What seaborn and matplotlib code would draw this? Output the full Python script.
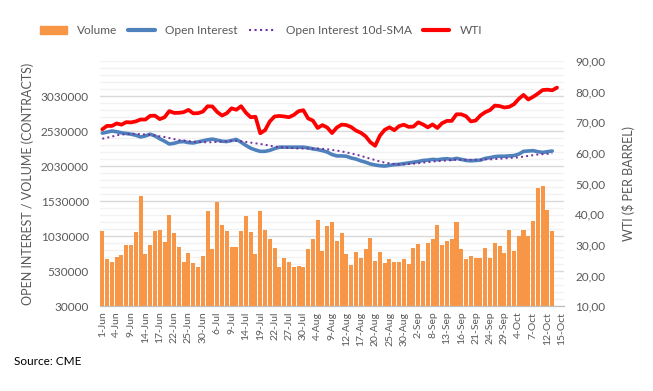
import numpy as np
import pandas as pd
import seaborn as sns
import matplotlib.pyplot as plt
from matplotlib.lines import Line2D
from matplotlib.patches import Patch
from matplotlib.ticker import FuncFormatter

# trading days 1-Jun .. 15-Oct (US holidays removed)
dates = pd.bdate_range('2021-06-01', '2021-10-15', freq='C',
                       holidays=['2021-07-05', '2021-09-06'])
date_labels = [f"{d.day}-{d.strftime('%b')}" for d in dates]

volume = [1096000, 701000, 659000, 730000, 758000, 903000, 903000, 1082000, 1607000, 776000,
          903000, 1096000, 1124000, 941000, 1335000, 1068000, 870000, 659000, 791000, 645000,
          584000, 744000, 1392000, 842000, 1518000, 1194000, 1096000, 870000, 870000, 1096000,
          1321000, 1082000, 776000, 1392000, 1124000, 983000, 856000, 589000, 715000, 659000,
          589000, 603000, 589000, 842000, 983000, 1265000, 814000, 1180000, 1237000, 955000,
          1068000, 772000, 617000, 800000, 715000, 842000, 997000, 673000, 800000, 645000,
          701000, 659000, 659000, 701000, 631000, 856000, 913000, 673000, 927000, 983000,
          1194000, 899000, 955000, 983000, 1237000, 842000, 701000, 744000, 715000, 715000,
          856000, 715000, 927000, 885000, 786000, 1124000, 814000, 1025000, 1124000, 1025000,
          1251000, 1716000, 1744000, 1406000, 1096000]

open_interest = [2500000, 2515000, 2530000, 2520000, 2505000, 2495000, 2485000, 2470000, 2445000, 2460000,
                 2485000, 2460000, 2420000, 2385000, 2345000, 2355000, 2375000, 2380000, 2365000, 2360000,
                 2375000, 2390000, 2405000, 2415000, 2400000, 2385000, 2380000, 2395000, 2410000, 2370000,
                 2325000, 2285000, 2260000, 2240000, 2240000, 2255000, 2280000, 2300000, 2300000, 2300000,
                 2300000, 2300000, 2300000, 2290000, 2275000, 2265000, 2250000, 2230000, 2195000, 2175000,
                 2175000, 2170000, 2145000, 2130000, 2105000, 2085000, 2060000, 2045000, 2035000, 2030000,
                 2040000, 2050000, 2055000, 2065000, 2075000, 2085000, 2095000, 2110000, 2115000, 2125000,
                 2120000, 2130000, 2135000, 2125000, 2140000, 2125000, 2110000, 2105000, 2110000, 2115000,
                 2140000, 2150000, 2165000, 2170000, 2170000, 2175000, 2180000, 2200000, 2240000, 2245000,
                 2250000, 2235000, 2225000, 2235000, 2245000]

oi_sma = [2420000, 2435000, 2450000, 2470000, 2480000, 2485000, 2490000, 2490000, 2485000, 2480000,
          2475000, 2465000, 2455000, 2445000, 2430000, 2415000, 2400000, 2395000, 2385000, 2380000,
          2375000, 2370000, 2370000, 2370000, 2375000, 2380000, 2385000, 2390000, 2390000, 2385000,
          2375000, 2365000, 2355000, 2345000, 2335000, 2320000, 2310000, 2300000, 2295000, 2290000,
          2285000, 2280000, 2280000, 2280000, 2280000, 2280000, 2275000, 2270000, 2260000, 2250000,
          2240000, 2225000, 2210000, 2195000, 2175000, 2155000, 2135000, 2115000, 2095000, 2080000,
          2070000, 2060000, 2055000, 2055000, 2060000, 2065000, 2070000, 2080000, 2085000, 2095000,
          2100000, 2105000, 2110000, 2115000, 2120000, 2120000, 2120000, 2120000, 2120000, 2120000,
          2125000, 2125000, 2130000, 2135000, 2140000, 2145000, 2150000, 2155000, 2165000, 2175000,
          2185000, 2195000, 2200000, 2205000, 2210000]

wti = [67.72, 68.83, 68.81, 69.62, 69.23, 70.05, 69.96, 70.29, 70.91, 70.88,
       72.12, 72.15, 71.04, 71.64, 73.66, 73.06, 73.08, 73.30, 74.05, 72.91,
       72.98, 73.47, 75.23, 75.16, 73.37, 72.20, 72.94, 74.56, 74.10, 75.25,
       73.13, 71.65, 71.81, 66.42, 67.42, 70.30, 71.91, 72.07, 71.91, 71.65,
       72.39, 73.62, 73.95, 71.26, 70.56, 68.15, 69.09, 68.28, 66.48, 68.29,
       69.25, 69.09, 68.44, 67.29, 66.59, 65.46, 63.50, 62.32, 65.64, 67.54,
       68.36, 67.42, 68.74, 69.21, 68.50, 68.59, 69.99, 69.29, 68.35, 69.30,
       68.14, 69.72, 70.45, 70.46, 72.61, 72.61, 71.97, 70.29, 70.56, 72.23,
       73.30, 73.98, 75.45, 75.29, 74.83, 75.03, 75.88, 77.62, 78.93, 77.43,
       78.30, 79.35, 80.52, 80.64, 80.44, 81.31]

n = len(date_labels)
df = pd.DataFrame({'date': date_labels,
                   'volume': volume + [np.nan] * (n - len(volume))})

sns.set_style('white')
plt.rcParams['font.family'] = ['Lato', 'DejaVu Sans']
txt = '#595959'
c_vol, c_oi, c_sma, c_wti = '#F79646', '#4F81BD', '#7030A0', '#FF0000'

fig, ax = plt.subplots(figsize=(6.53, 3.91), dpi=100)
fig.subplots_adjust(left=0.153, right=0.864, bottom=0.217, top=0.844)

sns.barplot(data=df, x='date', y='volume', order=date_labels, color=c_vol,
            saturation=1, width=0.84, linewidth=0, ax=ax, zorder=2)
sns.lineplot(x=np.arange(len(open_interest)), y=open_interest, ax=ax,
             color=c_oi, lw=2.6, zorder=3)
sns.lineplot(x=np.arange(len(oi_sma)), y=oi_sma, ax=ax,
             color=c_sma, lw=1.4, ls=':', zorder=4)

ax.set_ylim(30000, 3530000)
ax.set_yticks(np.arange(30000, 3030001, 500000))
ax.set_yticks(np.arange(30000, 3530001, 100000), minor=True)
ax.yaxis.set_major_formatter(FuncFormatter(lambda v, p: f"{int(round(v))}"))
ax.grid(axis='y', which='major', color='#d9d9d9', lw=1)
ax.grid(axis='y', which='minor', color='#f2f2f2', lw=1)
ax.set_axisbelow(True)
ax.set_xlim(-0.5, n - 0.5)
ax.set_xticks(np.arange(0, n, 3))
ax.set_xticklabels(date_labels[::3], rotation=90)
ax.set_xticks(np.arange(-0.5, n, 1), minor=True)
ax.tick_params(axis='x', which='major', length=0, labelsize=7.5, colors=txt, pad=4)
ax.tick_params(axis='x', which='minor', length=3, color='#bfbfbf', width=0.8)
ax.tick_params(axis='y', which='both', length=0, labelsize=8.5, colors=txt, pad=8)
ax.set_xlabel('')
ax.set_ylabel('OPEN INTEREST / VOLUME (CONTRACTS)', fontsize=9, color=txt, labelpad=5)

ax2 = ax.twinx()
sns.lineplot(x=np.arange(len(wti)), y=wti, ax=ax2, color=c_wti, lw=2.7, zorder=5)
ax2.set_ylim(10, 90)
ax2.set_yticks(np.arange(10, 91, 10))
ax2.set_yticklabels([f"{v:.2f}".replace('.', ',') for v in np.arange(10, 91, 10)])
ax2.tick_params(axis='y', length=0, labelsize=8.5, colors=txt, pad=8)
ax2.set_ylabel('WTI ($ PER BARREL)', fontsize=9, color=txt, labelpad=12)
ax2.set_xlim(-0.5, n - 0.5)

for a in (ax, ax2):
    for s in ('top', 'left', 'right'):
        a.spines[s].set_visible(False)
    a.spines['bottom'].set_color('#bfbfbf')

handles = [Patch(color=c_vol),
           Line2D([], [], color=c_oi, lw=3),
           Line2D([], [], color=c_sma, lw=1.5, ls=':'),
           Line2D([], [], color=c_wti, lw=3)]
fig.legend(handles, ['Volume', 'Open Interest', 'Open Interest 10d-SMA', 'WTI'],
           loc='center', bbox_to_anchor=(0.40, 0.921), ncol=4, frameon=False,
           fontsize=8.6, handlelength=2.2, handleheight=0.6, handletextpad=0.9,
           columnspacing=0.9, labelcolor=txt)

fig.text(0.021, 0.066, 'Source: CME', fontsize=8.5, color='black')

fig.savefig('out.png', dpi=100)
